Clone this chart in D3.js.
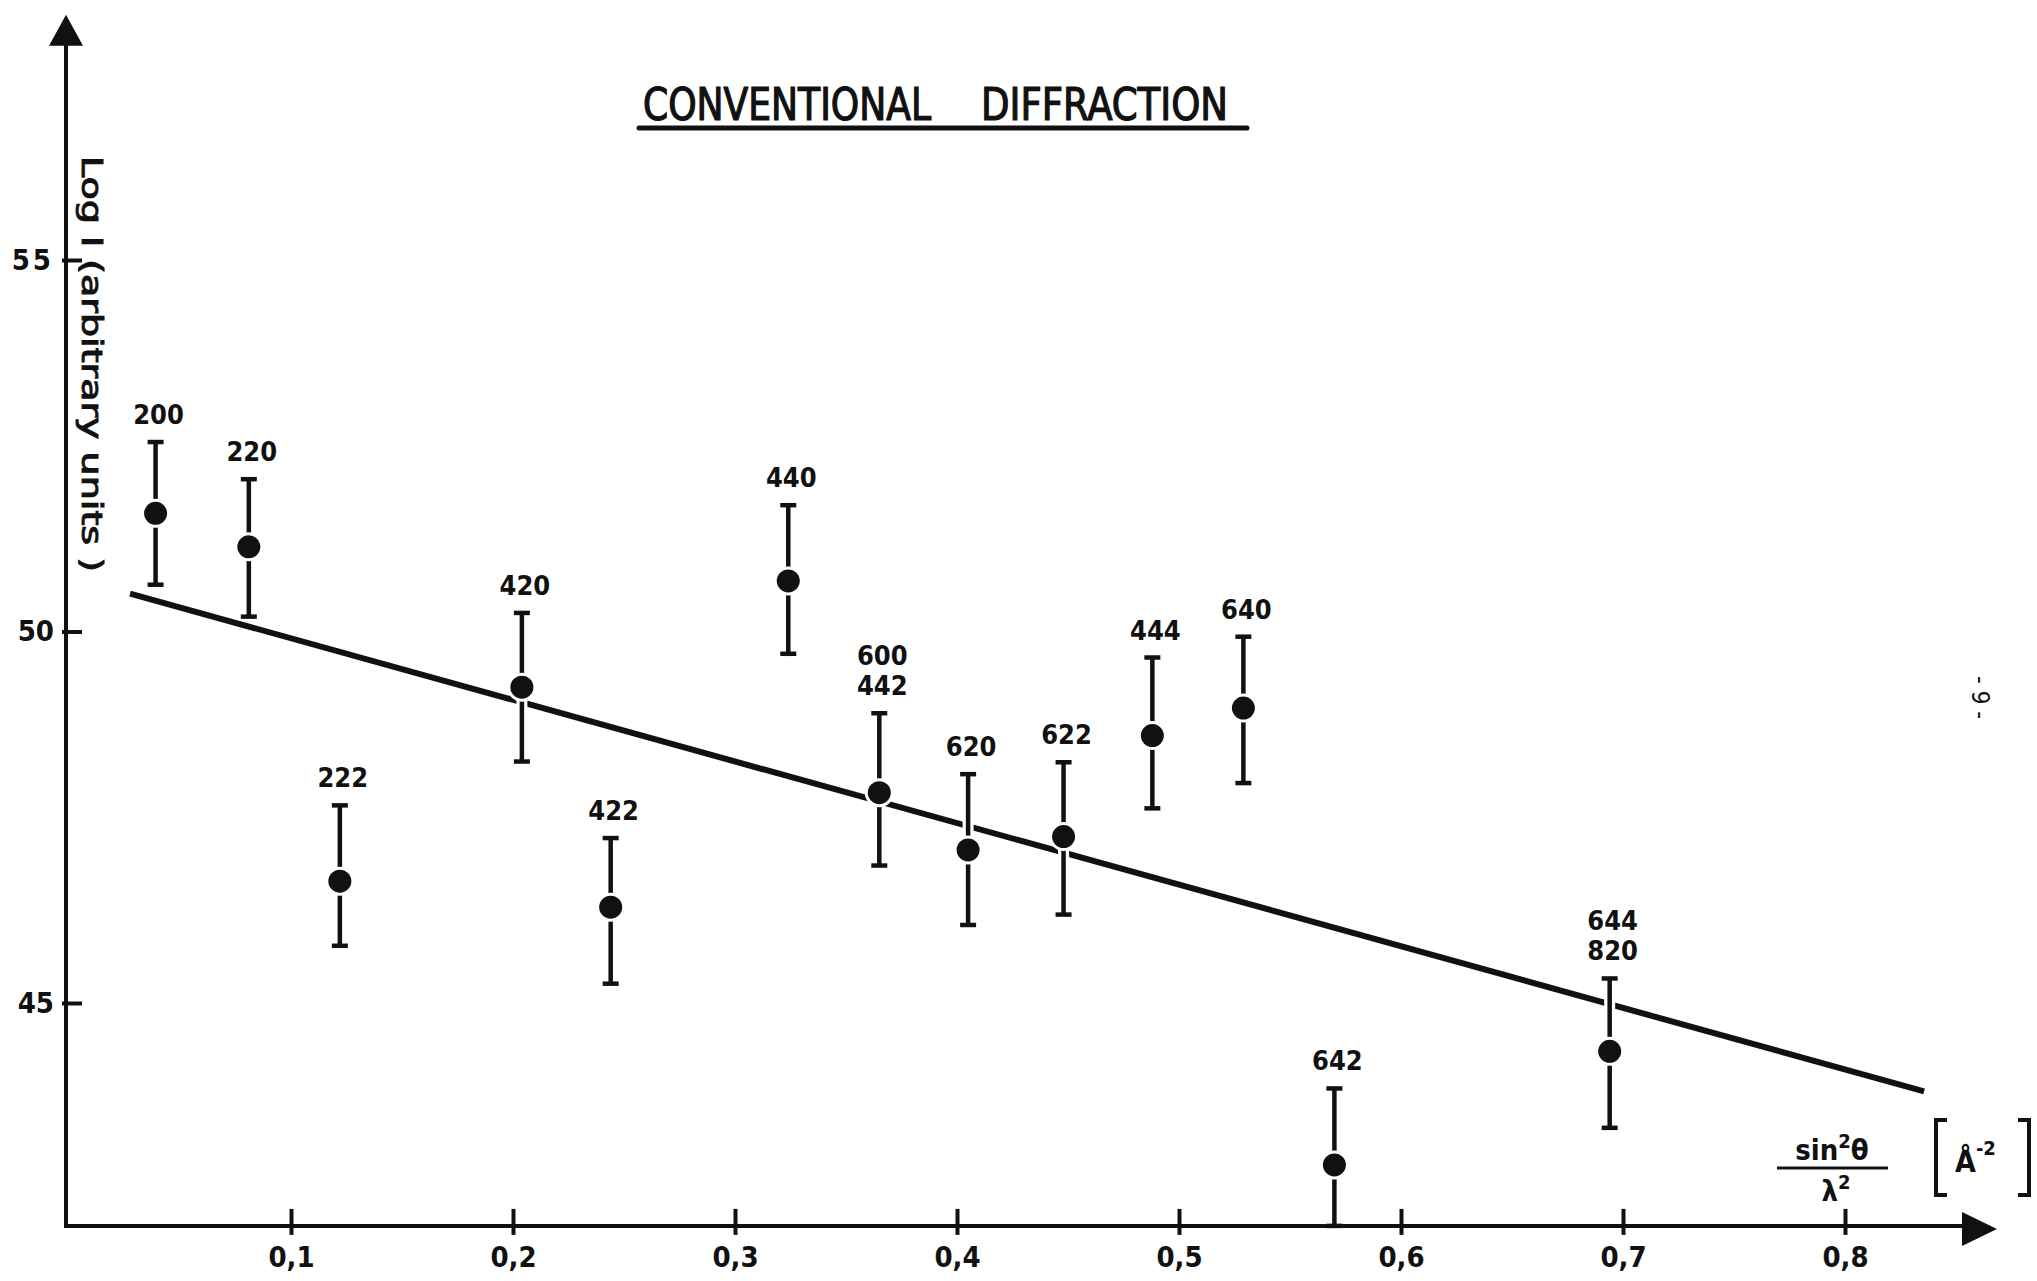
<!DOCTYPE html>
<html><head><meta charset="utf-8">
<script src="https://cdn.jsdelivr.net/npm/d3@7"></script>
<style>html,body{margin:0;padding:0;background:#fff;} svg{display:block;}</style>
</head><body>
<svg id="chart" width="2037" height="1281"></svg>
<script>
// ---- data ----
const reflections = [["200"],["220"],["222"],["420"],["422"],["440"],["600","442"],["620"],["622"],["444"],["640"],["642"],["644","820"]];
const sinThetaOverLambda2 = [0.039,0.081,0.122,0.204,0.244,0.324,0.365,0.405,0.448,0.488,0.529,0.570,0.694];
const logIntensity = [51.59,51.14,46.64,49.25,46.29,50.68,47.83,47.06,47.24,48.60,48.97,42.82,44.35];
const errUpper = [52.55,52.05,47.66,50.25,47.22,51.70,48.90,48.08,48.24,49.65,49.93,43.85,45.33];
const errLower = [50.63,50.20,45.77,48.25,45.26,49.70,46.85,46.05,46.19,47.62,47.96,42.00,43.32];
const fitX = [0.0275, 0.8356];
const fitY = [50.51, 43.81];
const xTicks = [0.1,0.2,0.3,0.4,0.5,0.6,0.7,0.8];
const yTicks = [45,50,55];
const xTickLabels = ["0,1","0,2","0,3","0,4","0,5","0,6","0,7","0,8"];
const yTickLabels = ["45","50","55"];

const svg = d3.select("#chart");
const ink = "#111";
const x = d3.scaleLinear().domain([0,0.8]).range([69,1845]);
const y = d3.scaleLinear().domain([45,55]).range([1003,260]);
const yMin = 42, yMax = 58.3;
const axisX = 66, axisY = y(yMin);

svg.append("rect").attr("width",2037).attr("height",1281).attr("fill","#fff");

// title
const tf = "'DejaVu Sans Condensed','DejaVu Sans',sans-serif";
svg.append("text").attr("x",643).attr("y",120).attr("font-family",tf).attr("font-size",44)
  .attr("stroke",ink).attr("stroke-width",1.2)
  .attr("textLength",288).attr("lengthAdjust","spacingAndGlyphs").attr("fill",ink).text("CONVENTIONAL");
svg.append("text").attr("x",981).attr("y",120).attr("font-family",tf).attr("font-size",44)
  .attr("stroke",ink).attr("stroke-width",1.2)
  .attr("textLength",247).attr("lengthAdjust","spacingAndGlyphs").attr("fill",ink).text("DIFFRACTION");
svg.append("line").attr("x1",639).attr("x2",1247).attr("y1",128).attr("y2",128)
  .attr("stroke",ink).attr("stroke-width",5).attr("stroke-linecap","round");

// fit line
const line = d3.line().x(d=>x(d[0])).y(d=>y(d[1]));
svg.append("path").attr("d", line(fitX.map((v,i)=>[v,fitY[i]])))
  .attr("stroke",ink).attr("stroke-width",6).attr("fill","none");

// points
const pts = sinThetaOverLambda2.map((v,i)=>({x:v,y:logIntensity[i],hi:errUpper[i],lo:Math.max(errLower[i],yMin),lab:reflections[i]}));
const g = svg.append("g");
g.selectAll(".halo").data(pts).join("line")
  .attr("x1",d=>x(d.x)).attr("x2",d=>x(d.x)).attr("y1",d=>y(d.hi)).attr("y2",d=>y(d.lo))
  .attr("stroke","#fff").attr("stroke-width",11);
g.selectAll(".bar").data(pts).join("line")
  .attr("x1",d=>x(d.x)).attr("x2",d=>x(d.x)).attr("y1",d=>y(d.hi)).attr("y2",d=>y(d.lo))
  .attr("stroke",ink).attr("stroke-width",4.5);
g.selectAll(".capT").data(pts).join("line")
  .attr("x1",d=>x(d.x)-8).attr("x2",d=>x(d.x)+8).attr("y1",d=>y(d.hi)).attr("y2",d=>y(d.hi))
  .attr("stroke",ink).attr("stroke-width",4.5);
g.selectAll(".capB").data(pts).join("line")
  .attr("x1",d=>x(d.x)-8).attr("x2",d=>x(d.x)+8).attr("y1",d=>y(d.lo)).attr("y2",d=>y(d.lo))
  .attr("stroke",ink).attr("stroke-width",4.5);
g.selectAll(".dot").data(pts).join("circle")
  .attr("cx",d=>x(d.x)).attr("cy",d=>y(d.y)).attr("r",13)
  .attr("fill",ink).attr("stroke","#fff").attr("stroke-width",3);

// labels
const lf = "'DejaVu Sans Condensed','DejaVu Sans',sans-serif";
pts.forEach(d=>{
  const n = d.lab.length;
  d.lab.forEach((t,k)=>{
    svg.append("text").attr("x",x(d.x)+3).attr("y",y(d.hi)-18-(n-1-k)*30)
      .attr("text-anchor","middle").attr("font-family",lf).attr("font-weight","bold")
      .attr("font-size",27).attr("fill",ink).text(t);
  });
});

// axes
const xa = svg.append("g").attr("transform",`translate(0,${axisY})`)
  .call(d3.axisBottom(x).tickValues(xTicks).tickFormat((d,i)=>xTickLabels[i]).tickSize(9).tickPadding(12));
xa.select(".domain").remove();
xa.selectAll(".tick line").attr("y1",-17).attr("stroke",ink).attr("stroke-width",4);
xa.selectAll(".tick text").attr("font-family",lf).attr("font-weight","bold").attr("font-size",29).attr("fill",ink);

const ya = svg.append("g").attr("transform",`translate(${axisX},0)`)
  .call(d3.axisLeft(y).tickValues(yTicks).tickFormat((d,i)=>yTickLabels[i]).tickSize(-16).tickPadding(12));
ya.select(".domain").remove();
ya.selectAll(".tick line").attr("x1",-4).attr("stroke",ink).attr("stroke-width",4);
ya.selectAll(".tick text").attr("font-family",lf).attr("font-weight","bold").attr("font-size",29).attr("fill",ink)
  .attr("letter-spacing",(d)=>d===55?"3px":"0px");

// axis lines with arrows
svg.append("line").attr("x1",axisX).attr("x2",axisX).attr("y1",axisY+2).attr("y2",y(yMax)+20)
  .attr("stroke",ink).attr("stroke-width",4);
svg.append("path").attr("d",`M${axisX},${y(yMax)} L${axisX-17},${y(yMax)+31} L${axisX+17},${y(yMax)+31} Z`).attr("fill",ink);
const xEnd = 1997;
svg.append("line").attr("x1",axisX-2).attr("x2",xEnd-20).attr("y1",axisY).attr("y2",axisY)
  .attr("stroke",ink).attr("stroke-width",4);
svg.append("path").attr("d",`M${xEnd},${axisY+3} L${xEnd-35},${axisY-14} L${xEnd-35},${axisY+20} Z`).attr("fill",ink);

// y axis label (rotated)
svg.append("text").attr("transform","translate(82,156) rotate(90)")
  .attr("font-family",lf).attr("font-size",28).attr("fill",ink)
  .attr("stroke",ink).attr("stroke-width",0.9)
  .attr("textLength",416).attr("lengthAdjust","spacingAndGlyphs")
  .text("Log I  (arbitrary  units )");

// x axis label: fraction
const xl = svg.append("g").attr("font-family",lf).attr("font-weight","bold").attr("fill",ink);
const num = xl.append("text").attr("x",1832).attr("y",1160).attr("text-anchor","middle").attr("font-size",29);
num.append("tspan").text("sin");
num.append("tspan").attr("font-size",20).attr("dy",-12).text("2");
num.append("tspan").attr("dy",12).text("θ");
xl.append("line").attr("x1",1777).attr("x2",1888).attr("y1",1168).attr("y2",1168).attr("stroke",ink).attr("stroke-width",3);
const den = xl.append("text").attr("x",1836).attr("y",1201).attr("text-anchor","middle").attr("font-size",29);
den.append("tspan").text("λ");
den.append("tspan").attr("font-size",20).attr("dy",-12).text("2");
// unit in brackets
svg.append("path").attr("d","M1947,1120 L1936,1120 L1936,1195 L1947,1195 M2018,1120 L2029,1120 L2029,1195 L2018,1195")
  .attr("stroke",ink).attr("stroke-width",4).attr("fill","none");
const unit = svg.append("text").attr("x",1955).attr("y",1172).attr("font-family",lf).attr("font-weight","bold").attr("font-size",30).attr("fill",ink);
unit.append("tspan").text("Å");
unit.append("tspan").attr("font-size",20).attr("dy",-17).text("-2");

// page number
svg.append("text").attr("transform","translate(1972,676) rotate(90)")
  .attr("font-family",lf).attr("font-size",24).attr("fill",ink).text("-  9  -");
</script>
</body></html>
